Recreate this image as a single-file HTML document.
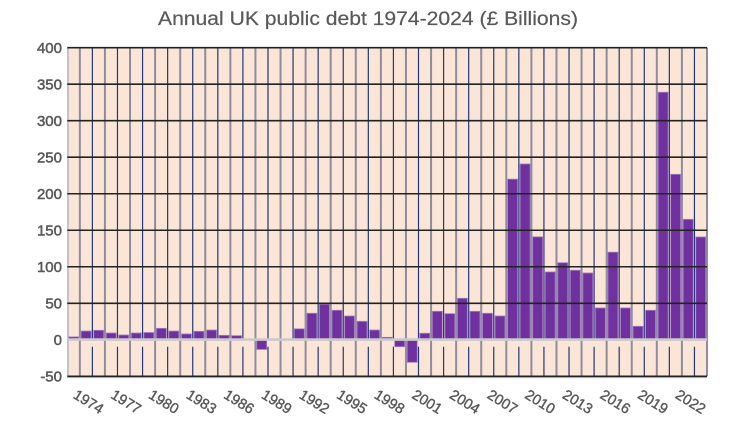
<!DOCTYPE html>
<html>
<head>
<meta charset="utf-8">
<style>
html,body{margin:0;padding:0;background:#fff;}
svg{display:block;}
text{font-family:"Liberation Sans",sans-serif;fill:#595959;}
</style>
</head>
<body>
<svg width="733" height="425" viewBox="0 0 733 425" xmlns="http://www.w3.org/2000/svg">
<rect x="0" y="0" width="733" height="425" fill="#ffffff"/>
<text x="158" y="25" font-size="19" textLength="420" lengthAdjust="spacingAndGlyphs" stroke="#595959" stroke-width="0.2">Annual UK public debt 1974-2024 (£ Billions)</text>
<rect x="67.3" y="47.7" width="639.7" height="328.6" fill="#fbe5d6"/>
<path stroke="#22397a" stroke-width="1.2" fill="none" d="M92.39 47.7V340M92.39 346.7V376.3M117.47 47.7V340M117.47 346.7V376.3M142.56 47.7V340M142.56 346.7V376.3M167.64 47.7V340M167.64 346.7V376.3M192.73 47.7V340M192.73 346.7V376.3M217.82 47.7V340M217.82 346.7V376.3M242.90 47.7V340M242.90 346.7V376.3M267.99 47.7V340M267.99 346.7V376.3M293.07 47.7V340M293.07 346.7V376.3M318.16 47.7V340M318.16 346.7V376.3M343.25 47.7V340M343.25 346.7V376.3M368.33 47.7V340M368.33 346.7V376.3M393.42 47.7V340M393.42 346.7V376.3M418.50 47.7V340M418.50 346.7V376.3M443.59 47.7V340M443.59 346.7V376.3M468.68 47.7V340M468.68 346.7V376.3M493.76 47.7V340M493.76 346.7V376.3M518.85 47.7V340M518.85 346.7V376.3M543.93 47.7V340M543.93 346.7V376.3M569.02 47.7V340M569.02 346.7V376.3M594.11 47.7V340M594.11 346.7V376.3M619.19 47.7V340M619.19 346.7V376.3M644.28 47.7V340M644.28 346.7V376.3M669.36 47.7V340M669.36 346.7V376.3M694.45 47.7V340M694.45 346.7V376.3"/>
<path stroke="#8f8ca0" stroke-width="2" fill="none" d="M79.84 47.7V376.3M104.93 47.7V376.3M130.02 47.7V376.3M155.10 47.7V376.3M180.19 47.7V376.3M205.27 47.7V376.3M230.36 47.7V376.3M255.45 47.7V376.3M280.53 47.7V376.3M305.62 47.7V376.3M330.70 47.7V376.3M355.79 47.7V376.3M380.88 47.7V376.3M405.96 47.7V376.3M431.05 47.7V376.3M456.13 47.7V376.3M481.22 47.7V376.3M506.31 47.7V376.3M531.39 47.7V376.3M556.48 47.7V376.3M581.56 47.7V376.3M606.65 47.7V376.3M631.74 47.7V376.3M656.82 47.7V376.3M681.91 47.7V376.3M707.0 47.7V376.3"/>
<line x1="68" y1="47.7" x2="68" y2="376.3" stroke="#c4c2cc" stroke-width="2"/>
<g fill="#7030a0" stroke="#a27fc2" stroke-width="0.8">
<rect x="68.6" y="336.88" width="9.94" height="2.92"/>
<rect x="81.14" y="331.04" width="9.94" height="8.76"/>
<rect x="93.69" y="330.31" width="9.94" height="9.49"/>
<rect x="106.23" y="333.01" width="9.94" height="6.79"/>
<rect x="118.77" y="334.98" width="9.94" height="4.82"/>
<rect x="131.32" y="333.01" width="9.94" height="6.79"/>
<rect x="143.86" y="332.5" width="9.94" height="7.3"/>
<rect x="156.40" y="328.34" width="9.94" height="11.46"/>
<rect x="168.94" y="331.04" width="9.94" height="8.76"/>
<rect x="181.49" y="333.96" width="9.94" height="5.84"/>
<rect x="194.03" y="331.33" width="9.94" height="8.47"/>
<rect x="206.57" y="330.02" width="9.94" height="9.78"/>
<rect x="219.12" y="335.35" width="9.94" height="4.45"/>
<rect x="231.66" y="335.64" width="9.94" height="4.16"/>
<rect x="256.75" y="339.8" width="9.94" height="9.64"/>
<rect x="269.29" y="338.9" width="9.94" height="0.9"/>
<rect x="294.37" y="328.85" width="9.94" height="10.95"/>
<rect x="306.92" y="313.29" width="9.94" height="26.51"/>
<rect x="319.46" y="304.31" width="9.94" height="35.49"/>
<rect x="332.00" y="310.3" width="9.94" height="29.5"/>
<rect x="344.55" y="316.0" width="9.94" height="23.8"/>
<rect x="357.09" y="321.33" width="9.94" height="18.47"/>
<rect x="369.63" y="330.02" width="9.94" height="9.78"/>
<rect x="382.18" y="337.32" width="9.94" height="2.48"/>
<rect x="394.72" y="339.8" width="9.94" height="6.86"/>
<rect x="407.26" y="339.8" width="9.94" height="22.49"/>
<rect x="419.80" y="333.3" width="9.94" height="6.5"/>
<rect x="432.35" y="311.32" width="9.94" height="28.48"/>
<rect x="444.89" y="313.66" width="9.94" height="26.14"/>
<rect x="457.43" y="298.32" width="9.94" height="41.48"/>
<rect x="469.98" y="311.32" width="9.94" height="28.48"/>
<rect x="482.52" y="313.29" width="9.94" height="26.51"/>
<rect x="495.06" y="316.0" width="9.94" height="23.8"/>
<rect x="507.61" y="179.16" width="9.94" height="160.64"/>
<rect x="520.15" y="163.97" width="9.94" height="175.83"/>
<rect x="532.69" y="236.84" width="9.94" height="102.96"/>
<rect x="545.23" y="271.96" width="9.94" height="67.84"/>
<rect x="557.78" y="262.69" width="9.94" height="77.11"/>
<rect x="570.32" y="270.28" width="9.94" height="69.52"/>
<rect x="582.86" y="272.99" width="9.94" height="66.81"/>
<rect x="595.41" y="307.96" width="9.94" height="31.84"/>
<rect x="607.95" y="252.18" width="9.94" height="87.62"/>
<rect x="620.49" y="307.96" width="9.94" height="31.84"/>
<rect x="633.04" y="326.29" width="9.94" height="13.51"/>
<rect x="645.58" y="310.3" width="9.94" height="29.5"/>
<rect x="658.12" y="92.26" width="9.94" height="247.54"/>
<rect x="670.66" y="174.34" width="9.94" height="165.46"/>
<rect x="683.21" y="219.32" width="9.94" height="120.48"/>
<rect x="695.75" y="236.99" width="9.94" height="102.81"/>
</g>
<g stroke="#222" stroke-width="1.6">
<line x1="67.3" y1="47.7" x2="707" y2="47.7"/>
<line x1="67.3" y1="84.21" x2="707" y2="84.21"/>
<line x1="67.3" y1="120.72" x2="707" y2="120.72"/>
<line x1="67.3" y1="157.23" x2="707" y2="157.23"/>
<line x1="67.3" y1="193.74" x2="707" y2="193.74"/>
<line x1="67.3" y1="230.25" x2="707" y2="230.25"/>
<line x1="67.3" y1="266.76" x2="707" y2="266.76"/>
<line x1="67.3" y1="303.27" x2="707" y2="303.27"/>
<line x1="67.3" y1="376.3" x2="707" y2="376.3"/>
</g>
<line x1="67.3" y1="377.6" x2="707" y2="377.6" stroke="#a8a8a8" stroke-width="1"/>
<line x1="67.3" y1="339.6" x2="707" y2="339.6" stroke="#cdc8cc" stroke-width="2.6"/>
<g font-size="15" text-anchor="end" stroke="#595959" stroke-width="0.5">
<text x="62" y="52.9">400</text>
<text x="62" y="89.4">350</text>
<text x="62" y="125.9">300</text>
<text x="62" y="162.4">250</text>
<text x="62" y="198.9">200</text>
<text x="62" y="235.4">150</text>
<text x="62" y="271.9">100</text>
<text x="62" y="308.4">50</text>
<text x="62" y="345.0">0</text>
<text x="62" y="381.5">-50</text>
</g>
<g font-size="14.5" text-anchor="middle" dominant-baseline="central" stroke="#595959" stroke-width="0.4">
<text transform="translate(88.1,402.5) rotate(32)">1974</text>
<text transform="translate(125.7,402.5) rotate(32)">1977</text>
<text transform="translate(163.4,402.5) rotate(32)">1980</text>
<text transform="translate(201.0,402.5) rotate(32)">1983</text>
<text transform="translate(238.6,402.5) rotate(32)">1986</text>
<text transform="translate(276.3,402.5) rotate(32)">1989</text>
<text transform="translate(313.9,402.5) rotate(32)">1992</text>
<text transform="translate(351.5,402.5) rotate(32)">1995</text>
<text transform="translate(389.1,402.5) rotate(32)">1998</text>
<text transform="translate(426.8,402.5) rotate(32)">2001</text>
<text transform="translate(464.4,402.5) rotate(32)">2004</text>
<text transform="translate(502.0,402.5) rotate(32)">2007</text>
<text transform="translate(539.7,402.5) rotate(32)">2010</text>
<text transform="translate(577.3,402.5) rotate(32)">2013</text>
<text transform="translate(614.9,402.5) rotate(32)">2016</text>
<text transform="translate(652.5,402.5) rotate(32)">2019</text>
<text transform="translate(690.2,402.5) rotate(32)">2022</text>
</g>
</svg>
</body>
</html>
